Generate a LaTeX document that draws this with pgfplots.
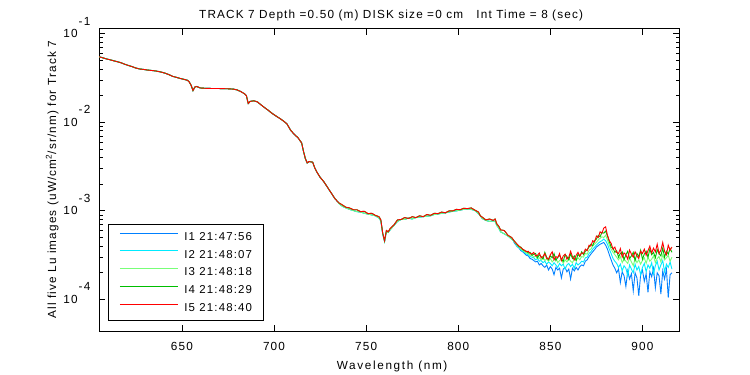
\documentclass[border=0pt]{standalone}
\usepackage{fontspec}
\setmainfont{Liberation Sans}[LetterSpace=10]
\usepackage{pgfplots}
\usepackage{pgfplotstable}
\pgfplotsset{compat=1.18}

\definecolor{cI1}{RGB}{0,128,255}
\definecolor{cI2}{RGB}{0,235,255}
\definecolor{cI3}{RGB}{120,255,120}
\definecolor{cI4}{RGB}{0,190,0}
\definecolor{cI5}{RGB}{255,0,0}

% shared smooth part 605-735 nm
\pgfplotstableread{
x y
605 0.0550
607 0.0535
609 0.0520
611 0.0508
613 0.0495
615 0.0483
617 0.0470
619 0.0452
621 0.0438
623 0.0425
625 0.0410
627 0.0400
629 0.0396
631 0.0390
633 0.0386
635 0.0382
637 0.0376
639 0.0368
641 0.0358
643 0.0345
645 0.0330
647 0.0322
649 0.0313
651 0.0306
653 0.0298
654 0.0285
655 0.0262
656 0.0228
657 0.0250
658 0.0254
660 0.0244
663 0.0242
666 0.0241
669 0.0241
672 0.0240
675 0.0239
678 0.0237
680 0.0232
682 0.0222
684 0.0210
685 0.0200
686 0.0163
687 0.0172
689 0.0175
691 0.0170
693 0.0157
695 0.0146
697 0.0136
699 0.0126
701 0.0118
703 0.0111
705 0.0104
707 0.00960
709 0.00815
711 0.00730
713 0.00670
715 0.00585
716 0.00470
717 0.00390
718 0.00348
719 0.00360
720 0.00358
721 0.00354
722 0.00310
723 0.00280
725 0.00240
727 0.00214
729 0.00185
731 0.00160
733 0.00138
735 0.00124
}\smoothS

% 735-830 nm, red / dark green
\pgfplotstableread{
x y
735 0.00124
737 0.00117
739 0.00110
741 0.00108
743 0.00103
745 0.00103
747 0.00098
749 0.00099
751 0.00093
753 0.00094
755 0.00089
757 0.00086
758 0.00079
759 0.00056
760 0.00046
761 0.00060
762 0.00058
763 0.00063
765 0.00069
767 0.00079
769 0.00080
771 0.00084
773 0.00082
775 0.00086
777 0.00084
779 0.00088
781 0.00086
783 0.00091
785 0.00089
787 0.00094
789 0.00093
791 0.00097
793 0.00095
795 0.00100
797 0.00100
799 0.00104
801 0.00103
803 0.00107
805 0.00106
807 0.00108
809 0.00102
811 0.00097
812 0.00088
813 0.00085
815 0.00079
817 0.00081
819 0.00078
820 0.00081
821 0.00071
822 0.00067
823 0.00061
825 0.00060
827 0.00053
829 0.00050
830 0.00047
}\midA

% 735-830 nm, blue / cyan / light green
\pgfplotstableread{
x y
735 0.00122
737 0.00113
739 0.00108
741 0.00104
743 0.00101
745 0.00098
747 0.00097
749 0.00094
751 0.00092
753 0.00090
755 0.00088
757 0.00083
758 0.00077
759 0.00055
760 0.00045
761 0.00058
762 0.00057
763 0.00061
765 0.00068
767 0.00076
769 0.00080
771 0.00080
773 0.00083
775 0.00081
777 0.00084
779 0.00085
781 0.00086
783 0.00087
785 0.00088
787 0.00091
789 0.00092
791 0.00094
793 0.00095
795 0.00097
797 0.00099
799 0.00100
801 0.00102
803 0.00104
805 0.00105
807 0.00104
809 0.00101
811 0.00093
812 0.00088
813 0.00082
815 0.00078
817 0.00076
819 0.00077
820 0.00076
821 0.00068
822 0.00064
823 0.00058
825 0.00055
827 0.00052
829 0.00048
830 0.00046
}\midB

% tails 830-916 nm
\pgfplotstableread{
x y
830 4.50e-4
831 4.20e-4
832 3.95e-4
833 3.80e-4
834 3.55e-4
835 3.45e-4
836 3.30e-4
837 3.15e-4
838 3.10e-4
839 2.90e-4
840 2.85e-4
841 2.75e-4
842 2.65e-4
843 2.70e-4
844 2.45e-4
845 2.55e-4
846 2.40e-4
847 2.30e-4
848 2.45e-4
849 2.15e-4
850 2.35e-4
851 2.20e-4
852 1.90e-4
853 2.30e-4
854 2.15e-4
855 2.25e-4
856 1.75e-4
857 2.20e-4
858 2.30e-4
859 2.05e-4
860 2.20e-4
861 1.70e-4
862 2.25e-4
863 2.10e-4
864 2.30e-4
865 2.15e-4
866 2.35e-4
867 2.45e-4
868 2.40e-4
869 2.70e-4
870 2.80e-4
871 3.05e-4
872 3.25e-4
873 3.45e-4
874 3.65e-4
875 3.90e-4
876 4.05e-4
877 4.20e-4
878 4.30e-4
879 4.40e-4
880 4.10e-4
881 3.70e-4
882 3.20e-4
883 2.80e-4
884 2.45e-4
885 2.25e-4
886 2.00e-4
887 2.20e-4
888 1.55e-4
889 2.05e-4
890 1.85e-4
891 1.40e-4
892 2.10e-4
893 1.70e-4
894 1.95e-4
895 1.25e-4
896 2.00e-4
897 1.75e-4
898 1.10e-4
899 1.90e-4
900 2.15e-4
901 1.60e-4
902 1.95e-4
903 1.20e-4
904 2.05e-4
905 1.80e-4
906 2.25e-4
907 1.35e-4
908 2.00e-4
909 1.85e-4
910 1.15e-4
911 2.10e-4
912 1.70e-4
913 2.20e-4
914 1.05e-4
915 1.90e-4
916 2.00e-4
}\tailA

\pgfplotstableread{
x y
830 4.55e-4
831 4.30e-4
832 4.00e-4
833 3.85e-4
834 3.65e-4
835 3.50e-4
836 3.40e-4
837 3.25e-4
838 3.20e-4
839 3.05e-4
840 3.00e-4
841 2.95e-4
842 2.80e-4
843 2.90e-4
844 2.70e-4
845 2.75e-4
846 2.60e-4
847 2.70e-4
848 2.50e-4
849 2.65e-4
850 2.55e-4
851 2.40e-4
852 2.60e-4
853 2.45e-4
854 2.30e-4
855 2.55e-4
856 2.40e-4
857 2.50e-4
858 2.20e-4
859 2.45e-4
860 2.55e-4
861 2.35e-4
862 2.50e-4
863 2.25e-4
864 2.60e-4
865 2.45e-4
866 2.55e-4
867 2.70e-4
868 2.65e-4
869 2.95e-4
870 3.00e-4
871 3.30e-4
872 3.45e-4
873 3.70e-4
874 3.90e-4
875 4.10e-4
876 4.30e-4
877 4.50e-4
878 4.60e-4
879 4.80e-4
880 4.60e-4
881 4.20e-4
882 3.70e-4
883 3.30e-4
884 2.90e-4
885 2.70e-4
886 2.55e-4
887 2.30e-4
888 2.50e-4
889 2.10e-4
890 2.40e-4
891 2.25e-4
892 1.85e-4
893 2.45e-4
894 2.20e-4
895 2.00e-4
896 2.50e-4
897 2.15e-4
898 2.35e-4
899 1.90e-4
900 2.30e-4
901 2.55e-4
902 2.05e-4
903 2.45e-4
904 2.25e-4
905 2.60e-4
906 1.95e-4
907 2.40e-4
908 2.70e-4
909 2.15e-4
910 2.45e-4
911 2.75e-4
912 2.05e-4
913 2.50e-4
914 2.30e-4
915 2.65e-4
916 2.20e-4
}\tailB

\pgfplotstableread{
x y
830 4.60e-4
831 4.35e-4
832 4.05e-4
833 3.90e-4
834 3.70e-4
835 3.60e-4
836 3.45e-4
837 3.35e-4
838 3.30e-4
839 3.15e-4
840 3.20e-4
841 3.00e-4
842 3.10e-4
843 2.90e-4
844 2.95e-4
845 2.80e-4
846 3.00e-4
847 2.75e-4
848 2.85e-4
849 2.70e-4
850 2.90e-4
851 2.65e-4
852 2.80e-4
853 2.95e-4
854 2.60e-4
855 2.75e-4
856 2.85e-4
857 2.55e-4
858 2.80e-4
859 2.65e-4
860 2.90e-4
861 2.70e-4
862 2.60e-4
863 2.85e-4
864 2.75e-4
865 2.95e-4
866 2.80e-4
867 3.05e-4
868 3.00e-4
869 3.30e-4
870 3.25e-4
871 3.60e-4
872 3.70e-4
873 4.00e-4
874 4.20e-4
875 4.40e-4
876 4.70e-4
877 4.90e-4
878 5.10e-4
879 5.00e-4
880 5.30e-4
881 4.70e-4
882 4.10e-4
883 3.70e-4
884 3.40e-4
885 3.20e-4
886 3.00e-4
887 2.80e-4
888 3.05e-4
889 2.60e-4
890 2.85e-4
891 2.70e-4
892 2.55e-4
893 2.95e-4
894 2.65e-4
895 2.40e-4
896 2.90e-4
897 2.60e-4
898 2.80e-4
899 2.50e-4
900 2.75e-4
901 2.95e-4
902 2.55e-4
903 3.00e-4
904 2.70e-4
905 2.85e-4
906 3.10e-4
907 2.60e-4
908 2.90e-4
909 3.05e-4
910 2.65e-4
911 3.20e-4
912 2.80e-4
913 2.95e-4
914 3.15e-4
915 2.70e-4
916 3.00e-4
}\tailC

\pgfplotstableread{
x y
830 4.65e-4
831 4.45e-4
832 4.15e-4
833 3.95e-4
834 3.90e-4
835 3.65e-4
836 3.55e-4
837 3.50e-4
838 3.35e-4
839 3.40e-4
840 3.15e-4
841 3.25e-4
842 3.30e-4
843 2.95e-4
844 3.20e-4
845 3.05e-4
846 2.85e-4
847 3.40e-4
848 3.00e-4
849 2.80e-4
850 3.10e-4
851 2.95e-4
852 3.30e-4
853 2.75e-4
854 3.00e-4
855 3.15e-4
856 2.85e-4
857 2.70e-4
858 3.20e-4
859 3.05e-4
860 2.80e-4
861 3.30e-4
862 2.90e-4
863 3.10e-4
864 2.75e-4
865 3.25e-4
866 3.05e-4
867 3.45e-4
868 3.20e-4
869 3.50e-4
870 3.65e-4
871 3.90e-4
872 4.20e-4
873 4.05e-4
874 4.60e-4
875 4.80e-4
876 5.30e-4
877 5.10e-4
878 5.70e-4
879 5.60e-4
880 5.90e-4
881 5.20e-4
882 4.50e-4
883 3.90e-4
884 3.80e-4
885 3.40e-4
886 3.55e-4
887 3.00e-4
888 3.30e-4
889 3.45e-4
890 2.80e-4
891 3.20e-4
892 3.50e-4
893 2.90e-4
894 3.10e-4
895 3.40e-4
896 2.75e-4
897 3.30e-4
898 3.05e-4
899 3.60e-4
900 2.85e-4
901 3.25e-4
902 3.50e-4
903 3.00e-4
904 3.70e-4
905 3.20e-4
906 3.40e-4
907 2.95e-4
908 3.65e-4
909 3.30e-4
910 3.10e-4
911 3.80e-4
912 3.00e-4
913 3.50e-4
914 3.25e-4
915 3.75e-4
916 3.40e-4
}\tailD

\pgfplotstableread{
x y
830 4.70e-4
831 4.40e-4
832 4.20e-4
833 4.00e-4
834 3.85e-4
835 3.70e-4
836 3.60e-4
837 3.45e-4
838 3.50e-4
839 3.30e-4
840 3.25e-4
841 3.40e-4
842 3.10e-4
843 3.15e-4
844 3.35e-4
845 2.95e-4
846 3.05e-4
847 3.30e-4
848 2.90e-4
849 2.85e-4
850 3.20e-4
851 3.45e-4
852 2.80e-4
853 3.05e-4
854 2.95e-4
855 3.30e-4
856 2.75e-4
857 3.10e-4
858 3.25e-4
859 2.85e-4
860 3.00e-4
861 3.50e-4
862 3.05e-4
863 2.80e-4
864 3.15e-4
865 3.40e-4
866 3.10e-4
867 3.35e-4
868 3.30e-4
869 3.70e-4
870 3.55e-4
871 4.10e-4
872 4.00e-4
873 4.60e-4
874 4.45e-4
875 5.20e-4
876 5.00e-4
877 5.80e-4
878 5.60e-4
879 6.40e-4
880 6.60e-4
881 5.30e-4
882 4.60e-4
883 4.30e-4
884 3.70e-4
885 3.90e-4
886 3.40e-4
887 3.30e-4
888 3.75e-4
889 3.00e-4
890 3.35e-4
891 3.20e-4
892 2.85e-4
893 3.60e-4
894 3.25e-4
895 3.00e-4
896 3.45e-4
897 3.10e-4
898 2.90e-4
899 3.50e-4
900 3.30e-4
901 3.70e-4
902 3.15e-4
903 3.55e-4
904 4.00e-4
905 3.35e-4
906 3.80e-4
907 3.45e-4
908 4.20e-4
909 3.30e-4
910 3.60e-4
911 4.40e-4
912 3.50e-4
913 3.20e-4
914 4.10e-4
915 3.60e-4
916 3.90e-4
}\tailE

\newcommand{\tl}[1]{10\kern1bp\raisebox{12.5bp}{-#1}}

\begin{document}
\fontsize{11.8}{14}\selectfont
\begin{tikzpicture}
\begin{axis}[
  scale only axis, width=580.3bp, height=302.3bp,
  ymode=log, xmin=605, xmax=920, ymin=4.4e-5, ymax=0.114,
  xtick={650,700,750,800,850,900},
  xticklabels={650,700,750,800,850,900},
  ytick={1e-4,1e-3,1e-2,1e-1},
  yticklabels={\tl{4},\tl{3},\tl{2},\tl{1}},
  tick align=inside,
  major tick length=6bp, minor tick length=3.7bp,
  axis line style={line width=0.8pt},
  every tick/.style={black, line width=0.8pt},
  font=\fontsize{11.8}{14}\selectfont,
  xticklabel style={anchor=base, yshift=-19bp, inner sep=0pt},
  yticklabel style={anchor=base east, inner sep=0pt, xshift=-8.5bp, yshift=-4bp},
  title={TRACK 7 Depth =0.50 (m) DISK size =0 cm\ \ \ Int Time = 8 (sec)},
  title style={at={(0.5,1)}, anchor=base, yshift=4.4bp, xshift=2bp, inner sep=0pt},
  xlabel={\addfontfeature{LetterSpace=14}Wavelength (nm)},
  xlabel style={at={(axis description cs:0.5,0)}, anchor=base, yshift=-38.3bp, xshift=3bp, inner sep=0pt},
  ylabel={All five Lu images (uW/cm\textsuperscript{2}/sr/nm) for Track 7},
  ylabel style={at={(axis description cs:-0.0741,0.5)}, anchor=base, inner sep=0pt},
  legend cell align=left,
  legend image code/.code={\draw[#1, line width=1bp] (0bp,0.65ex) -- (58bp,0.65ex);},
  legend style={at={(axis description cs:0.0155,0.033)}, anchor=south west,
    draw=black, line width=0.8pt, fill=white, inner xsep=11bp, inner ysep=7.5bp,
    row sep=8.0bp, column sep=6bp, nodes={inner sep=0pt},
    font=\fontsize{11.5}{13.5}\selectfont},
  every axis plot/.append style={line width=0.9pt},
]
\addplot[cI1, forget plot] table {\smoothS};
\addplot[cI1, forget plot] table {\midB};
\addplot[cI1] table {\tailA};
\addlegendentry{I1 21:47:56}
\addplot[cI2, forget plot] table {\smoothS};
\addplot[cI2, forget plot] table {\midB};
\addplot[cI2] table {\tailB};
\addlegendentry{I2 21:48:07}
\addplot[cI3, forget plot] table {\smoothS};
\addplot[cI3, forget plot] table {\midB};
\addplot[cI3] table {\tailC};
\addlegendentry{I3 21:48:18}
\addplot[cI4, forget plot] table {\smoothS};
\addplot[cI4, forget plot] table {\midA};
\addplot[cI4] table {\tailD};
\addlegendentry{I4 21:48:29}
\addplot[cI5, forget plot] table {\smoothS};
\addplot[cI5, forget plot] table {\midA};
\addplot[cI5] table {\tailE};
\addlegendentry{I5 21:48:40}
\end{axis}
\path (current axis.south west) ++(-99bp,-44bp) rectangle ++(750bp,375bp);
\end{tikzpicture}
\end{document}
